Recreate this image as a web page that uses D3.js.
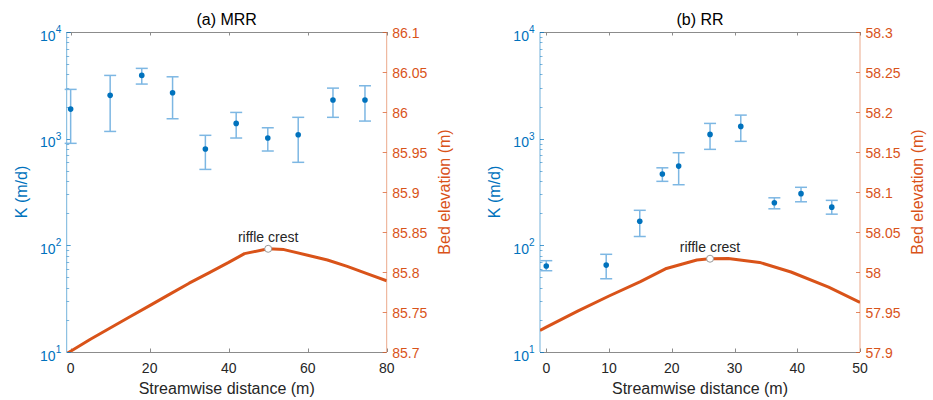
<!DOCTYPE html>
<html>
<head>
<meta charset="utf-8">
<script src="https://cdn.jsdelivr.net/npm/d3@7"></script>
<style>
  html, body { margin: 0; padding: 0; background: #fff; }
  svg { display: block; font-family: "Liberation Sans", Arial, Helvetica, sans-serif; }
</style>
</head>
<body>
<svg id="chart" width="933" height="400"></svg>
<script>
// ---------------- Data ----------------
const titles = ["(a) MRR", "(b) RR"];

// Panel (a) MRR
const mrrX    = [0, 10, 18, 25.8, 34.1, 41.9, 49.9, 57.6, 66.4, 74.5];
const mrrK    = [1893, 2547, 3917, 2692, 800, 1390, 1014, 1089, 2301, 2301];
const mrrKHi  = [2897, 3917, 4560, 3802, 1075, 1762, 1265, 1585, 2978, 3133];
const mrrKLo  = [904, 1169, 3250, 1537, 515, 1014, 766, 600, 1585, 1462];
const mrrBedX = [-1, 0, 5, 10, 15, 20, 25, 30, 35, 40, 44, 50, 54, 60, 65, 70, 75, 80];
const mrrBed  = [85.698, 85.701, 85.716, 85.730, 85.744, 85.758, 85.772, 85.786, 85.799, 85.812, 85.823, 85.829, 85.828, 85.821, 85.815, 85.807, 85.798, 85.789];
const mrrCrest = [50, 85.829];
const mrrXTicks = [0, 20, 40, 60, 80];
const mrrXDomain = [-1, 80];
const mrrElevDomain = [85.7, 86.1];
const mrrElevTicks = ["85.7", "85.75", "85.8", "85.85", "85.9", "85.95", "86", "86.05", "86.1"];

// Panel (b) RR
const rrX    = [0, 9.55, 14.9, 18.5, 21.1, 26.1, 31.0, 36.35, 40.6, 45.5];
const rrK    = [64, 65.3, 168, 466, 553, 1097, 1303, 251, 305, 228];
const rrKHi  = [71.8, 82.4, 213, 533, 738, 1390, 1663, 279, 350, 264];
const rrKLo  = [57.8, 48.6, 121, 398, 370, 794, 944, 220, 256, 196];
const rrBedX = [-1, 0, 5, 10, 15, 19, 24, 26, 29, 34, 39, 45, 50];
const rrBed  = [57.927, 57.931, 57.951, 57.970, 57.988, 58.004, 58.015, 58.0165, 58.0168, 58.012, 58.000, 57.981, 57.962];
const rrCrest = [26.1, 58.0166];
const rrXTicks = [0, 10, 20, 30, 40, 50];
const rrXDomain = [-1, 50];
const rrElevDomain = [57.9, 58.3];
const rrElevTicks = ["57.9", "57.95", "58", "58.05", "58.1", "58.15", "58.2", "58.25", "58.3"];

const kDomain = [10, 10000];
const kTicks = [10, 100, 1000, 10000];
const kExp = ["1", "2", "3", "4"];

const crestLabel = "riffle crest";
const xLabel = "Streamwise distance (m)";
const yLeftLabel = "K (m/d)";
const yRightLabel = "Bed elevation (m)";

// ---------------- Style ----------------
const BLUE = "#0072BD";
const ORANGE = "#D95319";
const DARK = "#262626";
const ERR = "#7DB7E3";

const panels = [
  { title: titles[0], x: mrrX, k: mrrK, hi: mrrKHi, lo: mrrKLo, bedX: mrrBedX, bed: mrrBed, crest: mrrCrest,
    xTicks: mrrXTicks, xDomain: mrrXDomain, eDomain: mrrElevDomain, eTicks: mrrElevTicks, left: 66.7, right: 386.7 },
  { title: titles[1], x: rrX, k: rrK, hi: rrKHi, lo: rrKLo, bedX: rrBedX, bed: rrBed, crest: rrCrest,
    xTicks: rrXTicks, xDomain: rrXDomain, eDomain: rrElevDomain, eTicks: rrElevTicks, left: 540, right: 860 }
];

const TOP = 32, BOTTOM = 352;
const svg = d3.select("#chart");

panels.forEach((p, pi) => {
  const g = svg.append("g");
  const x = d3.scaleLinear().domain(p.xDomain).range([p.left, p.right]);
  const y = d3.scaleLog().domain(kDomain).range([BOTTOM, TOP]);
  const ye = d3.scaleLinear().domain(p.eDomain).range([BOTTOM, TOP]);

  const clipId = "clip" + pi;
  svg.append("clipPath").attr("id", clipId).append("rect")
    .attr("x", p.left).attr("y", TOP).attr("width", p.right - p.left).attr("height", BOTTOM - TOP);

  // Top & bottom frame lines (gray)
  g.append("line").attr("x1", p.left).attr("x2", p.right).attr("y1", BOTTOM + 0.5).attr("y2", BOTTOM + 0.5)
    .attr("stroke", "#8c8c8c").attr("stroke-width", 1);
  g.append("line").attr("x1", p.left).attr("x2", p.right).attr("y1", TOP + 0.5).attr("y2", TOP + 0.5)
    .attr("stroke", "#8c8c8c").attr("stroke-width", 1);

  // X ticks (inward, top and bottom)
  p.xTicks.forEach(t => {
    const xx = Math.round(x(t)) + 0.5;
    g.append("line").attr("x1", xx).attr("x2", xx).attr("y1", BOTTOM).attr("y2", BOTTOM - 3.5)
      .attr("stroke", "#8c8c8c");
    g.append("line").attr("x1", xx).attr("x2", xx).attr("y1", TOP).attr("y2", TOP + 3.5)
      .attr("stroke", "#8c8c8c");
    g.append("text").attr("x", x(t)).attr("y", BOTTOM + 20.5).attr("text-anchor", "middle")
      .attr("font-size", 14).attr("fill", DARK).text(t);
  });

  // Left axis (log K)
  g.append("line").attr("x1", p.left).attr("x2", p.left).attr("y1", TOP).attr("y2", BOTTOM)
    .attr("stroke", BLUE).attr("stroke-opacity", 0.55);
  const minor = [];
  for (let d = 10; d < 10000; d *= 10) for (let m = 2; m <= 9; m++) minor.push(d * m);
  minor.forEach(v => {
    const yy = Math.round(y(v)) + 0.5;
    g.append("line").attr("x1", p.left).attr("x2", p.left + 2.5).attr("y1", yy).attr("y2", yy)
      .attr("stroke", BLUE).attr("stroke-opacity", 0.5);
  });
  kTicks.forEach((v, i) => {
    const yy = Math.round(y(v)) + 0.5;
    g.append("line").attr("x1", p.left).attr("x2", p.left + 4).attr("y1", yy).attr("y2", yy)
      .attr("stroke", BLUE).attr("stroke-opacity", 0.7);
    const t = g.append("text").attr("x", p.left - 5.5).attr("y", y(v) + 8.5).attr("text-anchor", "end")
      .attr("font-size", 14).attr("fill", BLUE);
    t.append("tspan").text("10");
    t.append("tspan").attr("dy", -7.5).attr("font-size", 10).text(kExp[i]);
  });

  // Right axis (elevation)
  g.append("line").attr("x1", p.right).attr("x2", p.right).attr("y1", TOP).attr("y2", BOTTOM)
    .attr("stroke", ORANGE).attr("stroke-opacity", 0.5);
  p.eTicks.forEach(s => {
    const v = +s;
    const yy = Math.round(ye(v)) + 0.5;
    g.append("line").attr("x1", p.right).attr("x2", p.right - 4).attr("y1", yy).attr("y2", yy)
      .attr("stroke", ORANGE).attr("stroke-opacity", 0.7);
    g.append("text").attr("x", p.right + 5.5).attr("y", ye(v) + 5.5).attr("font-size", 14)
      .attr("fill", ORANGE).text(s);
  });

  // Bed elevation line
  const line = d3.line().x(d => x(d[0])).y(d => ye(d[1]));
  g.append("path").datum(d3.zip(p.bedX, p.bed)).attr("clip-path", `url(#${clipId})`)
    .attr("d", line).attr("fill", "none").attr("stroke", ORANGE).attr("stroke-width", 3)
    .attr("stroke-linejoin", "round");

  // Riffle crest marker and label
  g.append("circle").attr("cx", x(p.crest[0])).attr("cy", ye(p.crest[1])).attr("r", 3.5)
    .attr("fill", "#fff").attr("stroke", "#999").attr("stroke-width", 1);
  g.append("text").attr("x", x(p.crest[0])).attr("y", ye(p.crest[1]) - 7)
    .attr("text-anchor", "middle").attr("font-size", 14).attr("fill", DARK).text(crestLabel);

  // Error bars and points
  const eb = g.append("g").attr("stroke", ERR).attr("stroke-width", 1.5);
  p.x.forEach((xv, i) => {
    const cx = x(xv);
    eb.append("line").attr("x1", cx).attr("x2", cx).attr("y1", y(p.lo[i])).attr("y2", y(p.hi[i]));
    eb.append("line").attr("x1", cx - 6).attr("x2", cx + 6).attr("y1", y(p.lo[i])).attr("y2", y(p.lo[i]));
    eb.append("line").attr("x1", cx - 6).attr("x2", cx + 6).attr("y1", y(p.hi[i])).attr("y2", y(p.hi[i]));
  });
  g.selectAll("circle.pt").data(p.x).enter().append("circle").attr("class", "pt")
    .attr("cx", d => x(d)).attr("cy", (d, i) => y(p.k[i])).attr("r", 2.8).attr("fill", BLUE);

  // Titles and axis labels
  const cx = (p.left + p.right) / 2;
  g.append("text").attr("x", cx).attr("y", 25).attr("text-anchor", "middle")
    .attr("font-size", 16).attr("fill", "#000").text(p.title);
  g.append("text").attr("x", cx).attr("y", 394).attr("text-anchor", "middle")
    .attr("font-size", 16).attr("fill", DARK).text(xLabel);
  g.append("text").attr("transform", `translate(${p.left - 40},${(TOP + BOTTOM) / 2}) rotate(-90)`)
    .attr("text-anchor", "middle").attr("font-size", 16).attr("fill", BLUE).text(yLeftLabel);
  g.append("text").attr("transform", `translate(${p.right + 63},${(TOP + BOTTOM) / 2}) rotate(-90)`)
    .attr("text-anchor", "middle").attr("font-size", 16).attr("fill", ORANGE).text(yRightLabel);
});
</script>
</body>
</html>
